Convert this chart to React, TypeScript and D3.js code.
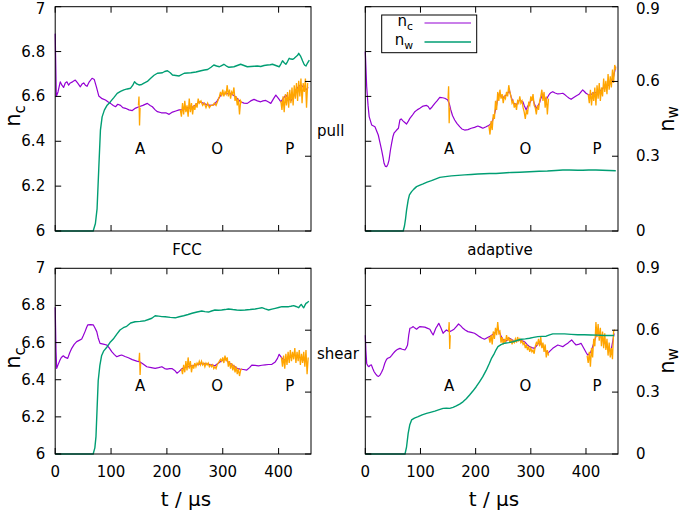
import React from "react";
import * as d3 from "d3";

type P = [number, number];

// ---------- data (t in µs, value) ----------
const fccPullNc: P[] = [[0,6.88],[2,6.60],[5,6.62],[9,6.665],[12,6.65],[15,6.64],[18,6.66],[21,6.665],[24,6.65],[27,6.66],[31,6.665],[36,6.673],[40,6.66],[45,6.643],[48,6.655],[51,6.66],[54,6.65],[57,6.645],[61,6.665],[66,6.681],[70,6.675],[74,6.64],[78,6.602],[84,6.59],[90,6.584],[95,6.575],[99,6.569],[104,6.56],[108,6.554],[112,6.565],[117,6.56],[121,6.55],[126,6.547],[132,6.54],[138,6.537],[144,6.548],[150,6.554],[157,6.56],[165,6.569],[170,6.56],[174,6.554],[179,6.54],[183,6.532],[190,6.527],[198,6.527],[204,6.52],[210,6.53],[216,6.535],[222,6.54],[227,6.54],[232,6.545],[237,6.55],[243,6.547],[250,6.56],[258,6.576],[265,6.57],[273,6.562],[279,6.56],[284,6.562],[290,6.58],[295,6.60],[299,6.614],[306,6.612],[314,6.614],[319,6.605],[323,6.599],[328,6.585],[332,6.576],[338,6.57],[344,6.569],[350,6.58],[356,6.587],[362,6.58],[368,6.576],[372,6.58],[377,6.582],[382,6.575],[386,6.569],[391,6.59],[395,6.606],[400,6.59],[404,6.576],[408,6.59],[413,6.606],[418,6.59],[422,6.58],[427,6.60],[431,6.629],[436,6.645],[440,6.651],[445,6.64],[449,6.629],[453,6.64]];
const fccPullNw: P[] = [[0,0],[68,0],[72,0.03],[75,0.09],[78,0.25],[81,0.405],[84,0.458],[88,0.485],[93,0.505],[99,0.519],[105,0.535],[111,0.552],[117,0.56],[123,0.566],[129,0.57],[135,0.573],[139,0.585],[142,0.599],[146,0.59],[150,0.586],[155,0.588],[159,0.593],[165,0.60],[171,0.613],[177,0.625],[183,0.633],[188,0.634],[192,0.635],[196,0.64],[201,0.643],[206,0.635],[210,0.626],[216,0.624],[222,0.622],[231,0.633],[237,0.634],[243,0.635],[252,0.638],[261,0.643],[267,0.646],[273,0.648],[279,0.657],[284,0.666],[289,0.662],[294,0.659],[298,0.664],[302,0.669],[306,0.663],[311,0.657],[316,0.658],[320,0.659],[326,0.664],[332,0.669],[338,0.664],[344,0.659],[350,0.66],[356,0.661],[362,0.662],[368,0.66],[374,0.664],[380,0.666],[385,0.667],[389,0.669],[395,0.664],[401,0.659],[404,0.67],[407,0.683],[410,0.675],[413,0.669],[416,0.68],[419,0.693],[422,0.69],[425,0.689],[428,0.693],[431,0.699],[434,0.705],[436,0.713],[439,0.703],[441,0.693],[443,0.682],[445,0.672],[447,0.665],[449,0.662],[452,0.675],[455,0.686]];
const fccPullRaw: P[][] = [
  [[149,6.56],[150,6.60],[151,6.47],[152,6.55]],
  [[224,6.54],[226,6.51],[228,6.57],[230,6.52],[232,6.58],[234,6.53],[236,6.56],[238,6.51],[240,6.59],[242,6.53],[244,6.57],[246,6.52],[248,6.56],[250,6.54],[252,6.57],[254,6.55],[256,6.59],[258,6.57],[261,6.58],[264,6.56],[267,6.57],[270,6.55],[273,6.57],[276,6.55],[279,6.56],[282,6.56],[285,6.57],[288,6.56],[291,6.58],[294,6.60],[296,6.62],[298,6.60],[300,6.63],[302,6.60],[304,6.62],[306,6.61],[308,6.65],[310,6.60],[312,6.63],[314,6.59],[316,6.62],[318,6.61],[320,6.64],[322,6.58],[324,6.60],[326,6.56],[328,6.59],[330,6.52],[332,6.58],[334,6.57]],
  [[404,6.58],[406,6.54],[408,6.60],[410,6.53],[412,6.61],[414,6.56],[416,6.62],[418,6.55],[420,6.63],[422,6.57],[424,6.64],[426,6.56],[428,6.65],[430,6.59],[432,6.66],[434,6.58],[436,6.67],[438,6.60],[440,6.68],[442,6.57],[444,6.66],[446,6.62],[448,6.68],[450,6.55],[452,6.66]],
];

const adaptPullNc: P[] = [[0,6.80],[2.5,6.643],[5,6.56],[7,6.51],[11.5,6.473],[17.5,6.465],[23.5,6.428],[27,6.39],[29.6,6.361],[32,6.33],[34,6.302],[36.5,6.288],[38.6,6.287],[41,6.298],[43,6.316],[45.5,6.36],[47.7,6.391],[50,6.42],[52,6.436],[56,6.448],[60,6.458],[62.7,6.495],[65,6.50],[68.7,6.49],[71,6.485],[74.8,6.477],[78,6.49],[80.8,6.502],[85,6.515],[89.8,6.532],[94,6.54],[98.9,6.547],[104.8,6.557],[111,6.56],[114,6.555],[117,6.543],[121,6.553],[126,6.569],[130,6.58],[135,6.596],[140,6.594],[144,6.592],[149,6.585],[152,6.57],[155,6.54],[158,6.515],[162,6.495],[166,6.48],[171,6.465],[175,6.455],[180,6.45],[186,6.452],[192,6.458],[198,6.462],[204,6.468],[209,6.463],[213,6.458],[219,6.465],[225,6.473],[228,6.48],[231,6.495],[234,6.52],[237.5,6.554],[240,6.59],[243,6.614],[246,6.60],[249,6.592],[252,6.60],[255.5,6.606],[258,6.615],[261.5,6.625],[264,6.60],[267.5,6.576],[270,6.568],[273.6,6.562],[276,6.572],[279.6,6.584],[282,6.58],[285.6,6.576],[288,6.56],[291.7,6.54],[294,6.555],[297.7,6.57],[300,6.58],[303.6,6.592],[306,6.57],[309.8,6.547],[312,6.555],[315.7,6.57],[318,6.59],[321.7,6.611],[324,6.60],[327.8,6.584],[330,6.595],[333.8,6.611],[336,6.616],[339.8,6.621],[344,6.615],[348.9,6.611],[353,6.612],[357.9,6.614],[362,6.607],[365.8,6.599],[369,6.593],[373,6.587],[377,6.594],[382,6.602],[385,6.606],[388,6.611],[391,6.62],[394,6.629],[397,6.622],[400,6.614],[403,6.61],[406,6.606],[410,6.61],[415,6.617],[420,6.618],[424,6.62],[428,6.63],[433,6.643],[437,6.647],[442,6.651],[445,6.66],[448,6.666],[451,6.70],[454,6.733]];
const adaptPullNw: P[] = [[0,0],[68.7,0],[71,0.02],[73,0.05],[74.8,0.084],[77.7,0.124],[80,0.145],[83.9,0.158],[88,0.168],[92.9,0.178],[98,0.183],[104.8,0.189],[112,0.196],[120,0.202],[127,0.208],[135,0.215],[145,0.218],[156,0.221],[168,0.223],[180,0.225],[192,0.227],[204,0.229],[215,0.23],[225,0.231],[237,0.231],[250,0.233],[265,0.235],[280,0.236],[297.7,0.238],[315,0.24],[330,0.241],[345,0.243],[358,0.245],[370,0.245],[385,0.244],[394,0.244],[405,0.245],[418,0.245],[430,0.244],[442,0.243],[454,0.242]];
const adaptPullRaw: P[][] = [
  [[150,6.59],[151,6.645],[152,6.48],[153,6.55]],
  [[224,6.47],[226,6.43],[228,6.49],[230,6.45],[232,6.52],[234,6.50],[236,6.58],[238,6.54],[240,6.62],[242,6.58],[244,6.63],[246,6.59],[248,6.61],[250,6.57],[252,6.60],[254,6.59],[256,6.62],[258,6.60],[260,6.65],[262,6.62],[264,6.60],[266,6.57],[268,6.58],[270,6.55],[272,6.57],[274,6.54],[276,6.58],[278,6.57],[280,6.60],[282,6.57],[284,6.58],[286,6.55],[288,6.53],[290,6.50],[292,6.54],[294,6.52],[296,6.57],[298,6.56],[300,6.60],[302,6.58],[304,6.61],[306,6.56],[308,6.55],[310,6.52],[312,6.56],[314,6.54],[316,6.58],[318,6.60],[320,6.63],[322,6.58],[324,6.62],[326,6.55],[328,6.60],[330,6.52],[332,6.59]],
  [[404,6.61],[406,6.57],[408,6.63],[410,6.56],[412,6.62],[414,6.58],[416,6.64],[418,6.56],[420,6.65],[422,6.59],[424,6.66],[426,6.58],[428,6.64],[430,6.60],[432,6.68],[434,6.62],[436,6.67],[438,6.61],[440,6.70],[442,6.63],[444,6.69],[446,6.64],[448,6.72],[450,6.66],[452,6.74],[454,6.72]],
];

const fccShearNc: P[] = [[0,6.79],[1.5,6.55],[2.7,6.461],[5,6.48],[8.6,6.506],[11,6.52],[14.5,6.529],[18,6.52],[22.4,6.515],[26,6.545],[29.6,6.569],[34,6.59],[38.5,6.605],[43,6.612],[47.5,6.619],[50,6.635],[53.4,6.659],[56,6.68],[58.2,6.695],[63,6.697],[68.3,6.695],[71,6.68],[74.4,6.659],[77,6.625],[80.3,6.596],[86,6.592],[92.3,6.587],[97,6.57],[101.2,6.551],[106,6.535],[110.2,6.524],[115,6.53],[119,6.533],[125,6.525],[131,6.518],[138,6.508],[146,6.50],[152,6.496],[158,6.483],[164,6.47],[172,6.465],[179,6.461],[185,6.465],[191,6.47],[196,6.46],[200,6.457],[205,6.46],[209,6.46],[214,6.45],[218,6.435],[222,6.445],[227,6.46],[232,6.465],[238,6.47],[244,6.475],[250.5,6.479],[256,6.483],[262.5,6.488],[268,6.486],[274.5,6.483],[280,6.48],[286,6.475],[290,6.485],[295,6.496],[300,6.505],[304,6.515],[308,6.50],[313,6.488],[318,6.478],[322,6.47],[326,6.462],[331,6.457],[337,6.455],[343,6.452],[348,6.465],[352,6.479],[358,6.477],[364,6.475],[370,6.478],[376,6.48],[382,6.482],[388,6.483],[394,6.496],[398,6.515],[401,6.537],[405,6.52],[409,6.506],[413,6.51],[418,6.515],[422,6.525],[427,6.533],[431,6.528],[436,6.524],[440,6.515],[445,6.506],[451,6.496]];
const fccShearNw: P[] = [[0,0],[68,0],[71,0.03],[73,0.084],[75,0.22],[77,0.355],[80,0.43],[83,0.476],[87,0.50],[92,0.516],[98,0.54],[104,0.557],[110,0.58],[116,0.601],[122,0.612],[128,0.619],[135,0.635],[143,0.641],[152,0.643],[161,0.646],[167,0.652],[173,0.658],[179,0.67],[185,0.668],[191,0.666],[197,0.665],[206,0.662],[215,0.66],[222,0.665],[230,0.67],[238,0.676],[245,0.682],[254,0.688],[262.5,0.693],[268,0.69],[274.5,0.688],[280,0.693],[286,0.698],[292,0.697],[298,0.698],[304,0.70],[310,0.703],[318,0.70],[325,0.698],[332,0.697],[340,0.698],[349,0.7],[358,0.703],[364,0.706],[370,0.709],[376,0.703],[382,0.698],[388,0.702],[394,0.706],[400,0.71],[406,0.714],[412,0.714],[418,0.714],[422,0.716],[427,0.719],[431,0.715],[436,0.709],[438,0.717],[440.5,0.725],[443,0.715],[445,0.709],[447,0.72],[449,0.73],[452,0.735],[454,0.741]];
const fccShearRaw: P[][] = [
  [[150,6.50],[151,6.545],[152,6.425],[153,6.49]],
  [[226,6.46],[228,6.43],[230,6.48],[232,6.44],[234,6.50],[236,6.45],[238,6.52],[240,6.46],[242,6.50],[244,6.44],[246,6.48],[248,6.46],[250,6.49],[252,6.47],[254,6.49],[256,6.48],[258,6.50],[260,6.48],[262,6.50],[264,6.48],[266,6.49],[268,6.47],[270,6.49],[272,6.48],[274,6.49],[276,6.47],[278,6.48],[280,6.47],[282,6.48],[284,6.46],[286,6.47],[288,6.46],[290,6.48],[292,6.49],[294,6.50],[296,6.51],[298,6.50],[300,6.52],[302,6.49],[304,6.53],[306,6.50],[308,6.52],[310,6.47],[312,6.50],[314,6.46],[316,6.49],[318,6.45],[320,6.48],[322,6.44],[324,6.47],[326,6.43],[328,6.46],[330,6.42],[332,6.45],[334,6.46]],
  [[405,6.52],[407,6.47],[409,6.53],[411,6.46],[413,6.54],[415,6.48],[417,6.55],[419,6.49],[421,6.56],[423,6.50],[425,6.55],[427,6.51],[429,6.57],[431,6.49],[433,6.55],[435,6.50],[437,6.56],[439,6.48],[441,6.54],[443,6.49],[445,6.55],[447,6.47],[449,6.56],[451,6.43],[453,6.52]],
];

const adaptShearNc: P[] = [[0,6.64],[1,6.56],[2.5,6.488],[4.5,6.475],[6.7,6.47],[9,6.478],[11,6.48],[13.5,6.46],[16,6.443],[19,6.43],[22,6.42],[24,6.418],[26.5,6.425],[29.5,6.44],[32.5,6.461],[35.5,6.49],[38.6,6.51],[41.5,6.517],[44.6,6.52],[47.5,6.53],[50.6,6.542],[53.6,6.552],[56.7,6.56],[59.7,6.565],[62.7,6.569],[67,6.564],[71.8,6.56],[74,6.57],[76.6,6.587],[78.7,6.64],[80.8,6.677],[83.8,6.68],[86.8,6.686],[89.9,6.678],[92.9,6.672],[96,6.68],[99,6.686],[103,6.685],[107.9,6.683],[112,6.678],[117,6.672],[120,6.655],[123,6.641],[125.5,6.66],[127.8,6.677],[130.5,6.69],[133.2,6.704],[137,6.68],[141,6.65],[144,6.66],[147,6.668],[150,6.663],[153,6.659],[157,6.665],[160.9,6.672],[165,6.686],[169,6.70],[173,6.69],[177,6.677],[181,6.668],[186,6.659],[192,6.655],[198,6.65],[202,6.642],[207,6.632],[211,6.625],[216,6.618],[220,6.625],[225,6.632],[229,6.64],[234,6.65],[237,6.66],[240.4,6.677],[243,6.655],[246.5,6.632],[249,6.62],[252.5,6.605],[257,6.612],[261.5,6.623],[266,6.615],[270.5,6.605],[275,6.61],[279.6,6.614],[284,6.61],[288.6,6.605],[293,6.59],[297.7,6.578],[302,6.573],[306.7,6.569],[311,6.585],[315.7,6.605],[318.5,6.59],[321.7,6.578],[326,6.56],[330.8,6.542],[335,6.555],[339.8,6.569],[344,6.578],[348.9,6.587],[353,6.583],[357.9,6.578],[362,6.587],[366.9,6.596],[370,6.605],[374,6.614],[378,6.60],[382,6.587],[386,6.59],[391,6.596],[394,6.58],[397,6.564],[400,6.548],[403,6.533],[406,6.54],[409,6.551],[412,6.578],[415,6.605],[418,6.632],[421,6.659],[424,6.645],[427,6.632],[430,6.618],[433,6.605],[436,6.587],[439,6.569],[442,6.56],[445,6.551],[448,6.60],[451,6.65]];
const adaptShearNw: P[] = [[0,0],[72,0],[74.8,0.035],[77.7,0.10],[80.5,0.14],[83.9,0.165],[89,0.174],[95.8,0.181],[103,0.19],[111,0.197],[118,0.202],[126,0.208],[134,0.215],[141,0.221],[147,0.222],[153,0.221],[159,0.226],[165,0.233],[171,0.242],[177,0.253],[183,0.268],[189,0.286],[195,0.305],[201,0.326],[207,0.35],[213,0.375],[219,0.405],[225,0.44],[229,0.465],[234,0.488],[237,0.505],[240.4,0.52],[246,0.53],[252.5,0.537],[260,0.54],[267.6,0.544],[275,0.55],[282.7,0.556],[290,0.558],[297.7,0.561],[305,0.565],[312.7,0.569],[320,0.57],[327.8,0.571],[334,0.577],[339.8,0.582],[350,0.582],[361,0.582],[373,0.58],[385,0.578],[397,0.578],[409,0.577],[421,0.576],[433,0.574],[442,0.574],[451,0.574]];
const adaptShearRaw: P[][] = [
  [[151,6.66],[152,6.71],[153,6.565],[154,6.64]],
  [[224,6.63],[226,6.60],[228,6.64],[230,6.59],[232,6.66],[234,6.62],[236,6.68],[238,6.64],[240,6.71],[242,6.65],[244,6.66],[246,6.60],[248,6.63],[250,6.59],[252,6.62],[254,6.60],[256,6.64],[258,6.61],[260,6.63],[262,6.60],[264,6.62],[266,6.59],[268,6.61],[270,6.60],[272,6.62],[274,6.60],[276,6.63],[278,6.61],[280,6.62],[282,6.60],[284,6.61],[286,6.59],[288,6.60],[290,6.57],[292,6.59],[294,6.56],[296,6.58],[298,6.55],[300,6.57],[302,6.55],[304,6.56],[306,6.54],[308,6.58],[310,6.60],[312,6.59],[314,6.62],[316,6.58],[318,6.63],[320,6.57],[322,6.60],[324,6.55],[326,6.59],[328,6.52],[330,6.56],[332,6.53]],
  [[402,6.53],[404,6.49],[406,6.55],[408,6.47],[410,6.57],[412,6.52],[414,6.62],[416,6.58],[418,6.71],[420,6.63],[422,6.70],[424,6.61],[426,6.68],[428,6.58],[430,6.66],[432,6.57],[434,6.65],[436,6.56],[438,6.62],[440,6.53],[442,6.60],[444,6.52],[446,6.57],[448,6.51],[450,6.66],[452,6.67]],
];

const xTicks = [0, 100, 200, 300, 400];
const ncTicks = [6, 6.2, 6.4, 6.6, 6.8, 7];
const ncTickLabels = ["6", "6.2", "6.4", "6.6", "6.8", "7"];
const nwTicks = [0, 0.3, 0.6, 0.9];
const nwTickLabels = ["0", "0.3", "0.6", "0.9"];
const markLabels = ["A", "O", "P"];
const markTimes = [152, 290, 420];
const markLevel = 6.365;

const PURPLE = "#9400d3";
const GREEN = "#009e73";
const ORANGE = "#ffa500";
const FONT = "DejaVu Sans, sans-serif";

interface Box { x0: number; x1: number; y0: number; y1: number; }

function Panel(props: {
  box: Box; nc: P[]; nw: P[]; raw: P[][];
  leftLabels: boolean; rightLabels: boolean; bottomLabels: boolean;
}) {
  const { box, nc, nw, raw, leftLabels, rightLabels, bottomLabels } = props;
  const xs = d3.scaleLinear().domain([0, 458]).range([box.x0, box.x1]);
  const yc = d3.scaleLinear().domain([6, 7]).range([box.y1, box.y0]);
  const yw = d3.scaleLinear().domain([0, 0.9]).range([box.y1, box.y0]);
  const lc = d3.line<P>().x((d) => xs(d[0])).y((d) => yc(d[1]));
  const lw = d3.line<P>().x((d) => xs(d[0])).y((d) => yw(d[1]));
  const tk = 6;
  return (
    <g>
      <path d={lc(nc) || ""} fill="none" stroke={PURPLE} strokeWidth={1.2} strokeLinejoin="round" />
      {raw.map((s, i) => (
        <path key={"r" + i} d={lc(s) || ""} fill="none" stroke={ORANGE} strokeWidth={1.3} />
      ))}
      <path d={lw(nw) || ""} fill="none" stroke={GREEN} strokeWidth={1.4} strokeLinejoin="round" />
      {markLabels.map((m, i) => (
        <text key={m} x={xs(markTimes[i])} y={yc(markLevel)} textAnchor="middle" dominantBaseline="central"
          fontFamily={FONT} fontSize={15} fill="#000">{m}</text>
      ))}
      <rect x={box.x0} y={box.y0} width={box.x1 - box.x0} height={box.y1 - box.y0} fill="none" stroke="#000" strokeWidth={1} />
      {xTicks.map((t) => (
        <g key={"x" + t}>
          <line x1={xs(t)} x2={xs(t)} y1={box.y1} y2={box.y1 - tk} stroke="#000" />
          <line x1={xs(t)} x2={xs(t)} y1={box.y0} y2={box.y0 + tk} stroke="#000" />
          {bottomLabels && (
            <text x={xs(t)} y={box.y1 + 18} textAnchor="middle" dominantBaseline="central"
              fontFamily={FONT} fontSize={15} fill="#000">{t}</text>
          )}
        </g>
      ))}
      {ncTicks.map((v, i) => (
        <g key={"c" + v}>
          <line x1={box.x0} x2={box.x0 + tk} y1={yc(v)} y2={yc(v)} stroke="#000" />
          {leftLabels && (
            <text x={box.x0 - 10} y={Math.max(yc(v), 8.5)} textAnchor="end" dominantBaseline="central"
              fontFamily={FONT} fontSize={15} fill="#000">{ncTickLabels[i]}</text>
          )}
        </g>
      ))}
      {nwTicks.map((v, i) => (
        <g key={"w" + v}>
          <line x1={box.x1} x2={box.x1 - tk} y1={yw(v)} y2={yw(v)} stroke="#000" />
          {rightLabels && (
            <text x={box.x1 + 18} y={Math.max(yw(v), 8.5)} textAnchor="start" dominantBaseline="central"
              fontFamily={FONT} fontSize={15} fill="#000">{nwTickLabels[i]}</text>
          )}
        </g>
      ))}
    </g>
  );
}

function SubLabel(props: { x: number; y: number; main: string; sub: string; size: number; rotate?: boolean; anchor?: string; shift?: number }) {
  const { x, y, main, sub, size, rotate, anchor, shift } = props;
  return (
    <text x={0} y={0} transform={`translate(${x},${y})${rotate ? " rotate(-90)" : ""}`}
      textAnchor={anchor || "middle"} fontFamily={FONT} fontSize={size} fill="#000">
      <tspan>{main}</tspan>
      <tspan fontSize={size * 0.72} dy={size * (shift ?? 0.28)}>{sub}</tspan>
    </text>
  );
}

export default function App() {
  const TL: Box = { x0: 55.2, x1: 311, y0: 6.7, y1: 231 };
  const TR: Box = { x0: 365.3, x1: 618, y0: 6.7, y1: 231 };
  const BL: Box = { x0: 55.2, x1: 311, y0: 268.3, y1: 454 };
  const BR: Box = { x0: 365.3, x1: 618, y0: 268.3, y1: 454 };
  return (
    <svg width={685} height={513} style={{ position: "absolute", left: 0, top: 0, background: "#fff" }}>
      <rect x={0} y={0} width={685} height={513} fill="#fff" />
      <Panel box={TL} nc={fccPullNc} nw={fccPullNw} raw={fccPullRaw} leftLabels rightLabels={false} bottomLabels={false} />
      <Panel box={TR} nc={adaptPullNc} nw={adaptPullNw} raw={adaptPullRaw} leftLabels={false} rightLabels bottomLabels={false} />
      <Panel box={BL} nc={fccShearNc} nw={fccShearNw} raw={fccShearRaw} leftLabels rightLabels={false} bottomLabels />
      <Panel box={BR} nc={adaptShearNc} nw={adaptShearNw} raw={adaptShearRaw} leftLabels={false} rightLabels bottomLabels />

      <SubLabel x={19.6} y={116} main="n" sub="c" size={21} rotate />
      <SubLabel x={19.6} y={358} main="n" sub="c" size={21} rotate />
      <SubLabel x={674} y={119} main="n" sub="w" size={21} rotate shift={0.2} />
      <SubLabel x={674} y={361} main="n" sub="w" size={21} rotate shift={0.2} />

      <text x={186} y={499} textAnchor="middle" dominantBaseline="central" fontFamily={FONT} fontSize={20}>t / μs</text>
      <text x={494} y={499} textAnchor="middle" dominantBaseline="central" fontFamily={FONT} fontSize={20}>t / μs</text>

      <text x={317} y={131} dominantBaseline="central" fontFamily={FONT} fontSize={15}>pull</text>
      <text x={317} y={354} dominantBaseline="central" fontFamily={FONT} fontSize={15}>shear</text>
      <text x={187} y={250} textAnchor="middle" dominantBaseline="central" fontFamily={FONT} fontSize={15}>FCC</text>
      <text x={500} y={250} textAnchor="middle" dominantBaseline="central" fontFamily={FONT} fontSize={15}>adaptive</text>

      <g>
        <rect x={381.7} y={15} width={95} height={37.7} fill="#fff" stroke="#000" strokeWidth={1} />
        <SubLabel x={413} y={26} main="n" sub="c" size={15} anchor="end" />
        <line x1={424.5} x2={471} y1={23} y2={23} stroke={PURPLE} strokeWidth={1.2} />
        <SubLabel x={413} y={45} main="n" sub="w" size={15} anchor="end" />
        <line x1={424.5} x2={471} y1={42} y2={42} stroke={GREEN} strokeWidth={1.4} />
      </g>
    </svg>
  );
}
